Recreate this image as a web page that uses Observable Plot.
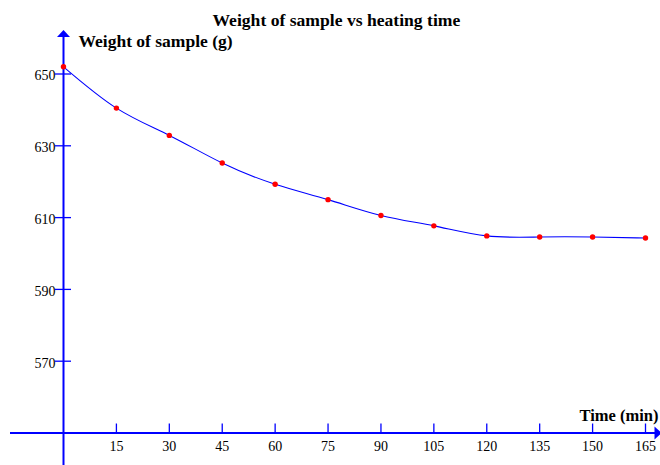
<!DOCTYPE html>
<html>
<head>
<meta charset="utf-8">
<script src="https://cdn.jsdelivr.net/npm/d3@7"></script>
<script src="https://cdn.jsdelivr.net/npm/@observablehq/plot@0.6"></script>
<style>
  html, body { margin: 0; padding: 0; background: #fff; }
  svg { display: block; }
</style>
</head>
<body>
<div id="chart"></div>
<script>
const times = [0, 15, 30, 45, 60, 75, 90, 105, 120, 135, 150, 165];
const weights = [652, 640.5, 632.9, 625.2, 619.3, 615, 610.6, 607.7, 604.9, 604.6, 604.6, 604.3];
const xTicks = [15, 30, 45, 60, 75, 90, 105, 120, 135, 150, 165];
const yTicks = [570, 590, 610, 630, 650];
const title = "Weight of sample vs heating time";
const yLabel = "Weight of sample (g)";
const xLabel = "Time (min)";

const data = times.map((t, i) => ({t, w: weights[i]}));
const blue = "#0000ff";
const font = "'Liberation Serif', 'Times New Roman', serif";

const arrowUp = {draw(ctx) { ctx.moveTo(0, -4); ctx.lineTo(6.5, 3); ctx.lineTo(-6.5, 3); ctx.closePath(); }};
const arrowRight = {draw(ctx) { ctx.moveTo(4, 0); ctx.lineTo(-3, 6.5); ctx.lineTo(-3, -6.5); ctx.closePath(); }};

const chart = Plot.plot({
  width: 660,
  height: 465,
  marginLeft: 63,
  marginRight: 15,
  marginTop: 73.5,
  marginBottom: 32.5,
  style: {fontFamily: font, background: "#fff"},
  x: {domain: [0, 165], axis: null},
  y: {domain: [550, 650], axis: null},
  marks: [
    Plot.ruleX([0], {stroke: blue, strokeWidth: 2, insetTop: -40, insetBottom: -33}),
    Plot.ruleY([550], {stroke: blue, strokeWidth: 2, insetLeft: -53, insetRight: -12}),
    Plot.dot([0], {frameAnchor: "top-left", dy: -40, symbol: arrowUp, fill: blue, stroke: "none"}),
    Plot.dot([0], {frameAnchor: "bottom-right", dx: 12, symbol: arrowRight, fill: blue, stroke: "none"}),
    Plot.ruleY(yTicks, {x1: 0, x2: 0, insetLeft: -8, insetRight: -8, stroke: blue, strokeWidth: 1.3}),
    Plot.ruleX(xTicks, {y1: 550, y2: 550, insetTop: -9, stroke: blue, strokeWidth: 1.3}),
    Plot.text(yTicks, {x: 0, y: d => d, dx: -8, dy: 2, textAnchor: "end", fontSize: 14, fill: "#000"}),
    Plot.text(xTicks, {x: d => d, y: 550, dy: 14, fontSize: 14, fill: "#000"}),
    Plot.line(data, {x: "t", y: "w", curve: "natural", stroke: blue, strokeWidth: 1.1}),
    Plot.dot(data, {x: "t", y: "w", r: 2.7, fill: "#ff0000", stroke: "none"}),
    Plot.text([title], {frameAnchor: "top-left", dx: 149, dy: -48.5, lineAnchor: "bottom", textAnchor: "start", fontSize: 17.6, fontWeight: "bold", fill: "#000"}),
    Plot.text([yLabel], {frameAnchor: "top-left", dx: 15, dy: -27.5, lineAnchor: "bottom", textAnchor: "start", fontSize: 17.5, fontWeight: "bold", fill: "#000"}),
    Plot.text([xLabel], {frameAnchor: "bottom-right", dx: 13, dy: -12.5, lineAnchor: "bottom", textAnchor: "end", fontSize: 16.5, fontWeight: "bold", fill: "#000"})
  ]
});
document.getElementById("chart").appendChild(chart);
</script>
</body>
</html>
